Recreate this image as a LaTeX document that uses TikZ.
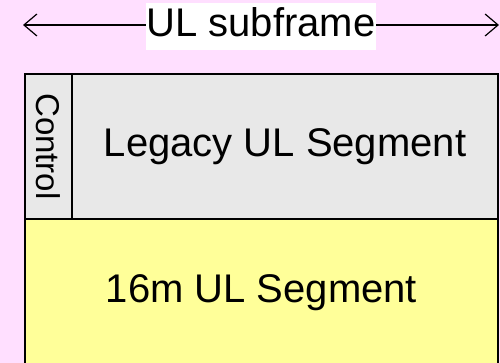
\documentclass[tikz,border=0pt]{standalone}
\usepackage{fontspec}
\setmainfont{Liberation Sans}
\usepackage{tikz}
\usetikzlibrary{arrows.meta, positioning}
\definecolor{pinkbg}{HTML}{FFDFFF}
\definecolor{legacygray}{HTML}{E8E8E8}
\definecolor{segyellow}{HTML}{FFFF99}
\begin{document}
\begin{tikzpicture}[x=1pt, y=1pt,
    part/.style={draw, line width=1.5pt, inner sep=0pt, outer sep=0pt},
    big/.style={font=\fontsize{40}{48}\selectfont}]
    \useasboundingbox[fill=pinkbg] (0,0) rectangle (500,363);

    \node[part, fill=legacygray, minimum width=47pt, minimum height=145pt,
          font=\fontsize{33}{40}\selectfont] (control) at (48.5,216.5)
          {\rotatebox{-90}{Control}};
    \node[part, fill=legacygray, big, minimum width=426pt, minimum height=145pt,
          right=0pt of control] (legacy) {Legacy UL Segment};
    \node[part, fill=segyellow, big, minimum width=473pt, minimum height=147pt,
          anchor=north west] (seg16) at (control.south west) {16m UL Segment};

    \coordinate (left) at (23,338);
    \coordinate (right) at (499,338);
    \draw[{Straight Barb[length=13pt, width=22pt]}-{Straight Barb[length=13pt, width=22pt]}, line width=1.2pt]
        (left) -- (right);
    \node[fill=white, big, inner xsep=1pt, inner ysep=0pt, text height=29pt, text depth=8pt,
          minimum height=47pt] (title) at (261,336.5) {UL subframe};
\end{tikzpicture}
\end{document}
